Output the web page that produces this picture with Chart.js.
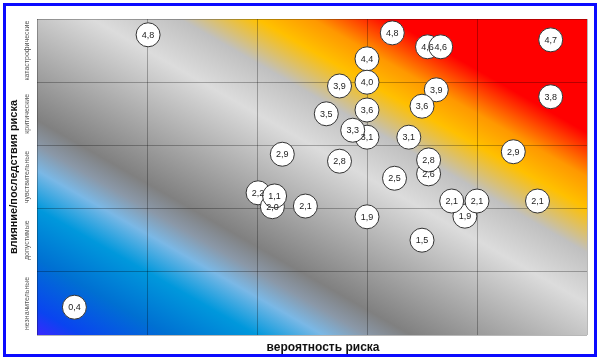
<!DOCTYPE html>
<html>
<head>
<meta charset="utf-8">
<script src="https://cdn.jsdelivr.net/npm/chart.js@4.4.0/dist/chart.umd.min.js"></script>
<style>
  body { margin: 0; background: #fff; }
  canvas { display: block; }
</style>
</head>
<body>
<canvas id="myChart" width="600" height="361"></canvas>
<script>
// оценка риска (подпись в кружке), вероятность (x), влияние (y)
const riskScores = ['4,8', '0,4', '4,8', '4,4', '4,0', '3,9', '3,5', '3,6', '3,1', '3,3',
  '2,9', '2,8', '2,5', '4,6', '4,6', '4,7', '3,9', '3,6', '3,8', '3,1',
  '2,6', '2,8', '2,9', '2,2', '2,0', '1,1', '2,1', '1,9', '1,9', '2,1',
  '2,1', '2,1', '1,5'];
const probability = [1.01, 0.34, 3.23, 3.0, 3.0, 2.75, 2.63, 3.0, 3.0, 2.87,
  2.23, 2.75, 3.25, 3.55, 3.67, 4.67, 3.63, 3.5, 4.67, 3.38,
  3.56, 3.56, 4.33, 2.01, 2.14, 2.16, 2.44, 3.0, 3.89, 3.77,
  4.0, 4.55, 3.5];
const impact = [4.75, 0.44, 4.78, 4.37, 4.0, 3.94, 3.5, 3.56, 3.13, 3.24,
  2.86, 2.75, 2.48, 4.56, 4.56, 4.67, 3.88, 3.62, 3.77, 3.13,
  2.55, 2.77, 2.9, 2.25, 2.03, 2.2, 2.04, 1.87, 1.88, 2.12,
  2.12, 2.12, 1.5];
const impactLevels = ['незначительные', 'допустимые', 'чувствительные', 'критические', 'катастрофические'];
const xTitle = 'вероятность риска';
const yTitle = 'влияние/последствия риска';

const points = probability.map((x, i) => ({ x: x, y: impact[i] }));

const riskDecor = {
  id: 'riskDecor',
  beforeDraw(chart) {
    const { ctx, chartArea: a } = chart;
    ctx.save();
    ctx.fillStyle = '#ffffff';
    ctx.fillRect(0, 0, chart.width, chart.height);
    ctx.strokeStyle = '#0a0aff';
    ctx.lineWidth = 3;
    ctx.strokeRect(4.5, 4.5, 591, 351);

    // диагональный градиент в нормированных координатах области
    ctx.translate(a.left, a.bottom);
    ctx.scale(a.right - a.left, -(a.bottom - a.top));
    const g = ctx.createLinearGradient(0, 0, 1, 1);
    g.addColorStop(0.00, '#3a28ff');
    g.addColorStop(0.04, '#0a44f0');
    g.addColorStop(0.12, '#0070d2');
    g.addColorStop(0.20, '#0098dc');
    g.addColorStop(0.26, '#7ab8e6');
    g.addColorStop(0.30, '#8a98a8');
    g.addColorStop(0.34, '#808080');
    g.addColorStop(0.45, '#b0b0b0');
    g.addColorStop(0.55, '#dcdcdc');
    g.addColorStop(0.63, '#c0c0c0');
    g.addColorStop(0.70, '#ffc000');
    g.addColorStop(0.75, '#ff9800');
    g.addColorStop(0.82, '#ff0000');
    g.addColorStop(1.00, '#ff0000');
    ctx.fillStyle = g;
    ctx.fillRect(0, 0, 1, 1);
    ctx.restore();
  },
  afterDatasetsDraw(chart) {
    const ctx = chart.ctx;
    const meta = chart.getDatasetMeta(0);
    ctx.save();
    ctx.font = '9px "Liberation Sans", Arial, sans-serif';
    ctx.fillStyle = '#222';
    ctx.textAlign = 'center';
    ctx.textBaseline = 'middle';
    meta.data.forEach((el, i) => {
      ctx.fillText(riskScores[i], el.x, el.y + 0.5);
    });
    ctx.restore();
  },
  afterDraw(chart) {
    const ctx = chart.ctx;
    const ys = chart.scales.y;
    ctx.save();
    ctx.textAlign = 'center';
    ctx.textBaseline = 'middle';
    // подписи уровней влияния
    ctx.font = '7px "Liberation Sans", Arial, sans-serif';
    ctx.fillStyle = '#555';
    impactLevels.forEach((lbl, i) => {
      const y = ys.getPixelForValue(i + 0.5);
      ctx.save();
      ctx.translate(27, y);
      ctx.rotate(-Math.PI / 2);
      ctx.fillText(lbl, 0, 0);
      ctx.restore();
    });
    // заголовки осей
    ctx.fillStyle = '#111';
    ctx.font = 'bold 11px "Liberation Sans", Arial, sans-serif';
    ctx.save();
    ctx.translate(14, (chart.chartArea.top + chart.chartArea.bottom) / 2);
    ctx.rotate(-Math.PI / 2);
    ctx.fillText(yTitle, 0, 0);
    ctx.restore();
    ctx.font = 'bold 12px "Liberation Sans", Arial, sans-serif';
    ctx.fillText(xTitle, 323, 348);
    ctx.restore();
  }
};

const ctx = document.getElementById('myChart').getContext('2d');
new Chart(ctx, {
  type: 'bubble',
  data: {
    datasets: [{
      data: points,
      radius: 12,
      backgroundColor: '#ffffff',
      borderColor: '#333333',
      borderWidth: 1,
      hoverRadius: 0,
      clip: false
    }]
  },
  options: {
    responsive: false,
    animation: false,
    layout: { padding: { left: 37, right: 12, top: 19, bottom: 26 } },
    plugins: { legend: { display: false }, tooltip: { enabled: false } },
    scales: {
      x: {
        min: 0, max: 5,
        ticks: { display: false, stepSize: 1 },
        grid: { color: 'rgba(0,0,0,0.28)', drawTicks: false },
        border: { display: false }
      },
      y: {
        min: 0, max: 5,
        ticks: { display: false, stepSize: 1 },
        grid: { color: 'rgba(0,0,0,0.28)', drawTicks: false },
        border: { display: false }
      }
    }
  },
  plugins: [riskDecor]
});
</script>
</body>
</html>
